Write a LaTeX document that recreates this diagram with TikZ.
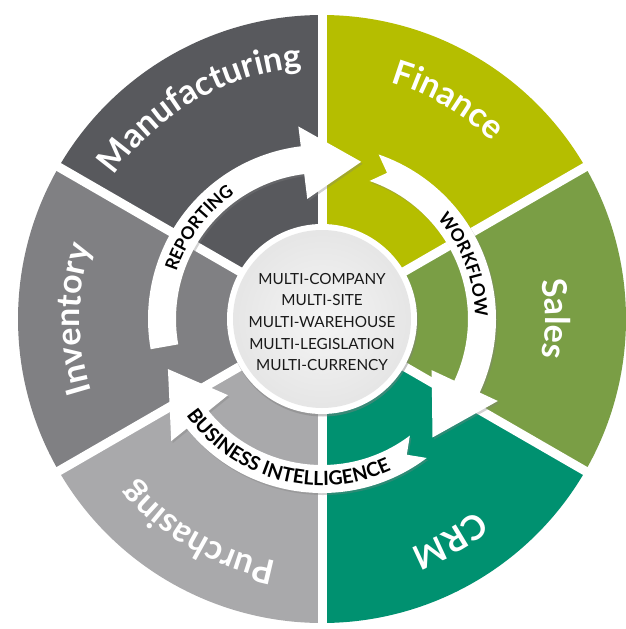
\documentclass[tikz,border=0pt]{standalone}
\usepackage{fontspec}
\setmainfont{Lato}
\usetikzlibrary{decorations.text,shadows}
\definecolor{manuf}{RGB}{88,89,93}
\definecolor{invent}{RGB}{128,128,131}
\definecolor{purch}{RGB}{169,169,171}
\definecolor{finan}{RGB}{181,190,0}
\definecolor{salesc}{RGB}{122,158,69}
\definecolor{crmc}{RGB}{0,145,112}
\newcommand\ringarrow[4]{% tail, head base, tip, notch
  \fill[arrowbody] (#1:174) arc[start angle=#1, end angle=#2, radius=174]
    -- (#2:194) -- (#3:162) -- (#2:121) -- (#2:146)
    arc[start angle=#2, end angle=#1, radius=146] -- (#4:160) -- cycle;}
\newcommand\seclabel[5]{% start, end, radius, size, text
  \path[decorate, decoration={text along path, text align=center, text color=white,
    text={|\bfseries\fontsize{#4}{#4}\selectfont|#5}}]
    (#1:#3) arc[start angle=#1, end angle=#2, radius=#3];}
\newcommand\ringlabel[5]{% start, end, radius, size, text
  \path[decorate, decoration={text along path, text align=center, text color=black,
    text={|\bfseries\fontsize{#4}{#4}\selectfont|#5}}]
    (#1:#3) arc[start angle=#1, end angle=#2, radius=#3];}
\begin{document}
\begin{tikzpicture}[x=1pt,y=1pt,
  gapline/.style={white, line width=9pt},
  arrowbody/.style={fill=white, drop shadow={opacity=0.35, shadow xshift=1.5pt, shadow yshift=-2pt}},
  disc/.style={fill=white, drop shadow={opacity=0.45, shadow xshift=1pt, shadow yshift=-2.5pt}}]
\useasboundingbox (0,0) rectangle (625,-629);
\begin{scope}[shift={(322,-319)}]
  % sectors
  \fill[finan] (0,0) -- (90:304) arc[start angle=90, end angle=30, radius=304] -- cycle;
  \fill[salesc] (0,0) -- (30:304) arc[start angle=30, end angle=-30, radius=304] -- cycle;
  \fill[crmc] (0,0) -- (-30:304) arc[start angle=-30, end angle=-90, radius=304] -- cycle;
  \fill[purch] (0,0) -- (-90:304) arc[start angle=-90, end angle=-150, radius=304] -- cycle;
  \fill[invent] (0,0) -- (210:304) arc[start angle=210, end angle=150, radius=304] -- cycle;
  \fill[manuf] (0,0) -- (150:304) arc[start angle=150, end angle=90, radius=304] -- cycle;
  \foreach \a in {90,30,-30,-90,-150,150} \draw[gapline] (0,0) -- (\a:310);
  % sector labels
  \seclabel{165}{75}{252}{34}{Manufacturing}
  \seclabel{105}{15}{246}{34}{Finance}
  \seclabel{45}{-45}{223}{34}{Sales}
  \seclabel{-15}{-105}{246}{34}{CRM}
  \seclabel{-75}{-165}{247}{34}{Purchasing}
  \seclabel{225}{135}{242}{34}{Inventory}
  % ring arrows
  \ringarrow{190}{97}{76}{190}
  \ringarrow{71}{-25}{-47}{66}
  \ringarrow{-53}{-141}{-162}{-58}
  \ringlabel{190}{97}{153}{17.5}{REPORTING}
  \ringlabel{61}{-19}{153}{17.5}{WORKFLOW}
  \ringlabel{198}{312}{166.5}{19.5}{BUSINESS INTELLIGENCE}
  % centre disc
  \fill[disc] (0,0) circle (95);
  \shade[inner color=gray!8, outer color=gray!20] (0,0) circle (89);
  \node[align=center, text=black!90, font=\fontsize{15.3}{21.7}\selectfont] (centre) at (0,-3)
    {MULTI-COMPANY\\MULTI-SITE\\MULTI-WAREHOUSE\\MULTI-LEGISLATION\\MULTI-CURRENCY};
\end{scope}
\end{tikzpicture}
\end{document}
